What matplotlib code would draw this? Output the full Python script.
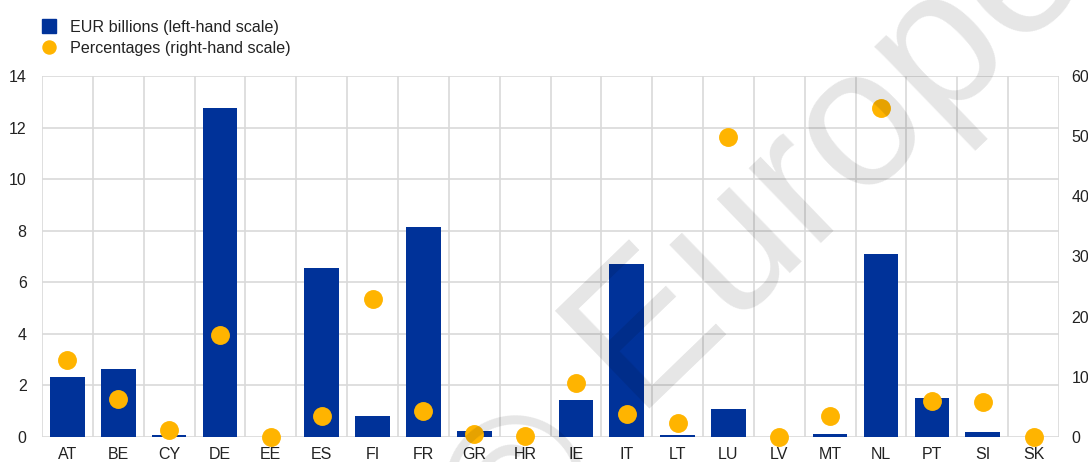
import matplotlib
matplotlib.use("Agg")
import matplotlib.pyplot as plt
from matplotlib.lines import Line2D
import numpy as np

plt.rcParams['font.family'] = ['Liberation Sans', 'DejaVu Sans']

countries = ["AT", "BE", "CY", "DE", "EE", "ES", "FI", "FR", "GR", "HR",
             "IE", "IT", "LT", "LU", "LV", "MT", "NL", "PT", "SI", "SK"]
# EUR billions (left-hand scale)
eur_bn = [2.33, 2.65, 0.07, 12.76, 0.0, 6.54, 0.83, 8.13, 0.23, 0.0,
          1.42, 6.69, 0.07, 1.08, 0.0, 0.13, 7.09, 1.52, 0.18, 0.0]
# percentages (right-hand scale)
pct = [12.8, 6.3, 1.2, 16.9, 0.0, 3.5, 23.0, 4.3, 0.5, 0.1,
       9.0, 3.9, 2.4, 49.9, 0.0, 3.5, 54.6, 6.0, 5.8, 0.0]

left_ticks = [0, 2, 4, 6, 8, 10, 12, 14]
right_ticks = [0, 10, 20, 30, 40, 50, 60]

blue = "#003299"
yellow = "#FFB400"
grid_c = "#d9d9d9"
txt_c = "#222222"

W, H = 1088, 462
fig = plt.figure(figsize=(W / 100, H / 100), dpi=100)
ax = fig.add_axes([42 / W, 1 - 437 / H, (1059 - 42) / W, (437 - 76) / H])

x = np.arange(len(countries))
ax.bar(x, eur_bn, width=0.68, color=blue, zorder=2)
ax.set_xlim(-0.5, len(countries) - 0.5)
ax.set_ylim(0, 14)
ax.set_yticks(left_ticks)
ax.set_xticks(x)
ax.set_xticklabels(countries)
ax.set_xticks(np.arange(-0.5, len(countries)), minor=True)
ax.grid(False)
ax.grid(True, which='minor', axis='x', color=grid_c, linewidth=1.2, zorder=0)
ax.grid(True, which='major', axis='y', color=grid_c, linewidth=1.2, zorder=0)
ax.set_axisbelow(True)
for s in ax.spines.values():
    s.set_visible(False)
ax.tick_params(axis='both', which='both', length=0, labelsize=11.5, colors=txt_c)
ax.tick_params(axis='y', pad=11)
ax.tick_params(axis='x', pad=7)

ax2 = ax.twinx()
ax2.scatter(x, pct, s=185, color=yellow, zorder=3, clip_on=False, linewidths=0)
ax2.set_ylim(0, 60)
ax2.set_yticks(right_ticks)
for s in ax2.spines.values():
    s.set_visible(False)
ax2.tick_params(axis='y', length=0, labelsize=11.5, colors=txt_c, pad=9)

handles = [Line2D([], [], linestyle='none', marker='s', markersize=9.4, color=blue),
           Line2D([], [], linestyle='none', marker='o', markersize=9.4, color=yellow)]
fig.legend(handles, ["EUR billions (left-hand scale)", "Percentages (right-hand scale)"],
           loc='upper left', bbox_to_anchor=(33 / W, 1 - 12 / H), frameon=False,
           borderpad=0, handlelength=1.0, handletextpad=0.8, labelspacing=0.34,
           fontsize=11.6, labelcolor=txt_c)

# watermark
fig.text(526 / W, 1 - 494 / H, "\u00a9", fontsize=142, rotation=44,
         rotation_mode='anchor', ha='center', va='center',
         color='black', alpha=0.1, zorder=10)
fig.text(639 / W, 1 - 420 / H, "European Central Bank", fontsize=142,
         rotation=44, rotation_mode='anchor', ha='left', va='baseline',
         color='black', alpha=0.1, zorder=10)

fig.savefig("out.png", dpi=100)
